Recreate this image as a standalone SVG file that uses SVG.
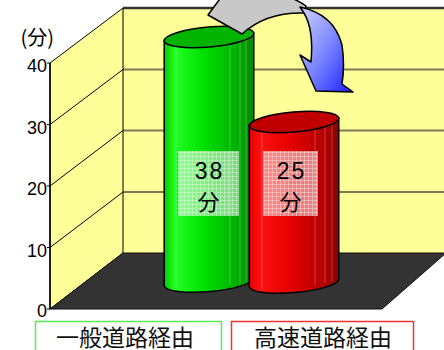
<svg xmlns="http://www.w3.org/2000/svg" width="444" height="350" viewBox="0 0 444 350">
<defs>
<style>
.wall{fill:#ffff99;stroke:#000;stroke-width:1}
.grid{stroke:#7a7a55;stroke-width:2;fill:none}
.diag{stroke:#000;stroke-width:1;fill:none}
.tick{stroke:#000;stroke-width:1}
.ax{font-family:"Liberation Sans",Arial,sans-serif;font-size:18px;fill:#000;text-anchor:end}
.unit{font-family:"Noto Sans CJK JP","Noto Sans",sans-serif;font-size:20px;fill:#000;text-anchor:end}
.cat{font-family:"Noto Sans CJK JP","Noto Sans",sans-serif;font-size:23px;fill:#111;text-anchor:middle}
.val{font-family:"Liberation Sans","Noto Sans CJK JP",sans-serif;font-size:23px;fill:#000;text-anchor:middle;letter-spacing:2px}
.valj{font-family:"Noto Sans CJK JP",sans-serif;font-size:22px;fill:#000;text-anchor:middle}
.edge{stroke:#000;stroke-width:1.5}
.stripe{stroke:#fff;stroke-opacity:0.25;stroke-width:1}
</style>
<linearGradient id="gG" x1="0" y1="0" x2="1" y2="0">
<stop offset="0" stop-color="#00cc00"/>
<stop offset="0.12" stop-color="#22ff22"/>
<stop offset="0.45" stop-color="#00e000"/>
<stop offset="0.8" stop-color="#00b000"/>
<stop offset="1" stop-color="#008a00"/>
</linearGradient>
<linearGradient id="gR" x1="0" y1="0" x2="1" y2="0">
<stop offset="0" stop-color="#e00000"/>
<stop offset="0.12" stop-color="#ff1010"/>
<stop offset="0.5" stop-color="#e00000"/>
<stop offset="0.85" stop-color="#b00000"/>
<stop offset="1" stop-color="#880000"/>
</linearGradient>
<linearGradient id="gB" x1="0" y1="0" x2="1" y2="1">
<stop offset="0" stop-color="#d0d4ff"/>
<stop offset="0.5" stop-color="#7a86ff"/>
<stop offset="1" stop-color="#1a1aff"/>
</linearGradient>
<pattern id="pt" width="4" height="4" patternUnits="userSpaceOnUse">
<rect width="4" height="4" fill="#fff" fill-opacity="0.5"/>
<path d="M0,0.5H4M0.5,0V4" stroke="#fff" stroke-opacity="0.35" stroke-width="1"/>
</pattern>
</defs>

<g id="chart-frame">
<rect x="123" y="8" width="330" height="245" fill="#ffff99"/>
<line x1="123" y1="8" x2="444" y2="8" stroke="#333" stroke-width="2.5"/>
<line class="grid" x1="123" y1="69.5" x2="444" y2="69.5"/>
<line class="grid" x1="123" y1="130.5" x2="444" y2="130.5"/>
<line class="grid" x1="123" y1="192" x2="444" y2="192"/>
<polygon class="wall" points="50,63 123,8 123,253 50,309"/>
<line class="diag" x1="50" y1="124.5" x2="123" y2="69.5"/>
<line class="diag" x1="50" y1="186" x2="123" y2="130.5"/>
<line class="diag" x1="50" y1="247.5" x2="123" y2="192"/>
<polygon points="50,309 123,253 446,253 382,309" fill="#333" stroke="#111" stroke-width="1"/>
<line class="tick" x1="47" y1="63" x2="50" y2="63"/>
<line class="tick" x1="47" y1="124.5" x2="50" y2="124.5"/>
<line class="tick" x1="47" y1="186" x2="50" y2="186"/>
<line class="tick" x1="47" y1="247.5" x2="50" y2="247.5"/>
<line class="tick" x1="47" y1="309" x2="50" y2="309"/>
<line x1="50" y1="63" x2="50" y2="309" stroke="#000" stroke-width="1.5"/>
</g>

<g id="axis-labels">
<text class="unit" x="54" y="45">(分)</text>
<text class="ax" x="47" y="72">40</text>
<text class="ax" x="47" y="133.5">30</text>
<text class="ax" x="47" y="195">20</text>
<text class="ax" x="47" y="256.5">10</text>
<text class="ax" x="47" y="317">0</text>
</g>

<g id="bar-general">
<path d="M164.2,40.9 L164.2,285.9 A45,10 -5 0 0 253.8,278.1 L253.8,33.1 Z" fill="url(#gG)" class="edge"/>
<line class="stripe" x1="176" y1="45" x2="176" y2="287"/>
<line class="stripe" x1="230" y1="40" x2="230" y2="285"/>
<line class="stripe" x1="240" y1="38" x2="240" y2="284"/>
<line class="stripe" x1="246" y1="37" x2="246" y2="282"/>
<ellipse cx="209" cy="37" rx="45" ry="10" transform="rotate(-5 209 37)" fill="#00b400" class="edge"/>
<rect x="178" y="151" width="61" height="65" fill="url(#pt)"/>
<text class="val" x="209.5" y="178.5">38</text>
<text class="valj" x="208.5" y="210">分</text>
</g>

<g id="bar-highway">
<path d="M249.2,125.9 L249.2,286.9 A45,10 -5 0 0 338.8,279.1 L338.8,118.1 Z" fill="url(#gR)" class="edge"/>
<line class="stripe" x1="262" y1="130" x2="262" y2="289"/>
<line class="stripe" x1="315" y1="125" x2="315" y2="285"/>
<line class="stripe" x1="325" y1="123" x2="325" y2="283"/>
<line class="stripe" x1="332" y1="121" x2="332" y2="282"/>
<ellipse cx="294" cy="122" rx="45" ry="10" transform="rotate(-5 294 122)" fill="#c00000" class="edge"/>
<rect x="263" y="151" width="55" height="65" fill="url(#pt)"/>
<text class="val" x="291.5" y="178.5">25</text>
<text class="valj" x="290.5" y="210">分</text>
</g>

<g id="arrow">
<path d="M208,15 L222,-4 Q275,-16 306,6 L304,13 Q266,12 242,34 Z" fill="#c8c8c8" stroke="#000" stroke-width="1.5" stroke-linejoin="round"/>
<path d="M300,7 Q334,14 342,45 Q345,65 342,84 L353,92 L316,91 L300,55 L311,62 Q314,30 304,13 Z" fill="url(#gB)" stroke="#000" stroke-width="1.5" stroke-linejoin="round"/>
</g>

<g id="legend-general">
<rect x="35.5" y="321.5" width="186" height="32" fill="#fff" stroke="#55ee55" stroke-width="1.5"/>
<text class="cat" x="125" y="346">一般道路経由</text>
</g>
<g id="legend-highway">
<rect x="231.5" y="321.5" width="182" height="32" fill="#fff" stroke="#ee3333" stroke-width="1.5"/>
<text class="cat" x="323" y="346">高速道路経由</text>
</g>
</svg>
